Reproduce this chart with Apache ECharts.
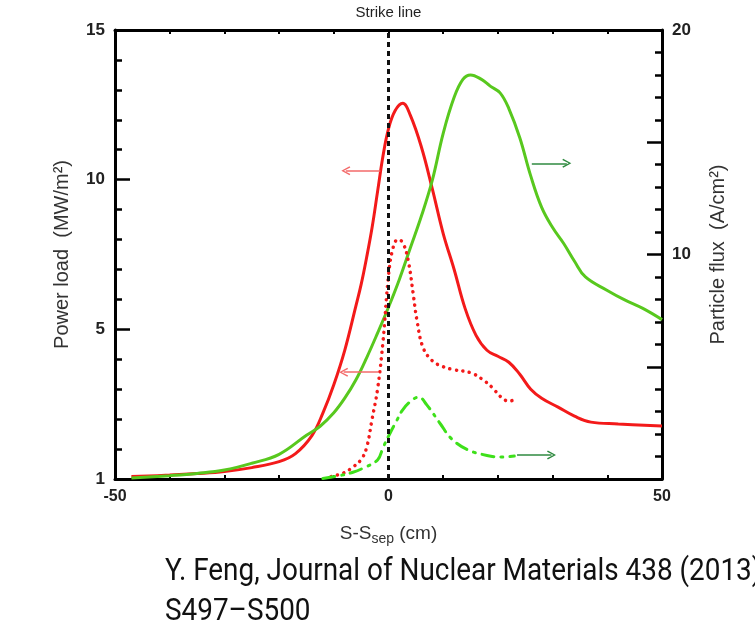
<!DOCTYPE html>
<html><head><meta charset="utf-8">
<script src="https://cdn.jsdelivr.net/npm/echarts@6/dist/echarts.min.js"></script>
<style>html,body{margin:0;padding:0;background:#fff}#c{width:755px;height:643px}</style>
</head><body><div id="c"></div>
<script>
// Power load (left axis), solid red
const redSolidX = [-47,-40,-35,-30,-25,-20,-17,-14,-12,-10,-8,-6,-5,-4,-3,-2,-1,0,1.2,2.6,4,6,8,10,12,14,16,18,20,22,24,26,28,31,34,37,42,50];
const redSolidY = [0.08,0.13,0.18,0.25,0.38,0.58,0.85,1.45,2.2,3.15,4.3,5.75,6.5,7.4,8.4,9.6,10.8,11.7,12.3,12.55,12.15,11.1,9.7,8.2,7.0,5.7,4.8,4.3,4.1,3.9,3.5,3.0,2.7,2.4,2.1,1.9,1.84,1.77];
// Particle flux (right axis), solid green
const greenSolidX = [-47,-40,-35,-30,-25,-20,-15,-12.5,-10,-8,-6,-4,-2,0,2,4,6,8,10,12,13.6,15,17,18.6,20.4,22,24,26,28,30,32,34,36,40,43,46.5,50];
const greenSolidY = [0.04,0.15,0.25,0.4,0.7,1.1,1.95,2.35,2.95,3.6,4.4,5.4,6.5,7.65,8.9,10.3,11.7,13.3,15.4,17.0,17.8,18.0,17.8,17.5,17.2,16.5,15.2,13.5,12.1,11.2,10.5,9.7,9.0,8.4,8.0,7.6,7.1];
// Power load (left axis), dotted red
const redDotX = [-10.5,-8,-6.5,-5,-4,-3,-2,-1,0,0.8,1.7,2.6,3.6,4.5,5.2,6.3,8,10,12,15,17,19,20.5,22,23.5];
const redDotY = [0.08,0.22,0.4,0.65,1.05,2.0,3.0,4.6,6.8,7.7,8.0,7.9,7.3,6.2,5.3,4.4,3.95,3.75,3.65,3.55,3.35,3.05,2.75,2.6,2.7];
// Particle flux (right axis), dash-dot green
const greenDashX = [-12,-9,-6.5,-4.5,-2,-1,0.3,1.5,2.5,4,5.5,7,9.5,11.5,14.5,18,20.5,23];
const greenDashY = [0.02,0.15,0.3,0.5,0.85,1.4,2.05,2.6,3.05,3.45,3.65,3.3,2.45,1.8,1.3,1.05,0.98,1.02];

// tick labels
const xTickValues = [-50, 0, 50];
const leftTickValues = [0, 5, 10, 15];
const leftTickLabels = ['1', '5', '10', '15'];
const rightTickValues = [10, 20];

// arrow annotations [xFrom, xTo, y]
const redArrows = [[-1.5, -7.8, 10.3], [-1.9, -8.2, 3.57]];
const greenArrows = [[26.2, 32.6, 14.06], [23.5, 29.8, 1.07]];

const RED = '#f31a1a', GREEN = '#58c81e', GREEN2 = '#3ee01a';
const chevron = 'path://M0,10 L5,0 L10,10 L8.6,11 L5,3.2 L1.4,11 Z';

function zip(xs, ys) { return xs.map((x, i) => [x, ys[i]]); }
function arrowData(list, color) {
  return list.map(a => [
    { coord: [a[0], a[2]], symbol: 'none' },
    { coord: [a[1], a[2]], symbol: chevron, symbolSize: [9, 9], lineStyle: { color: color, width: 1.6, type: 'solid' } }
  ]);
}

const FONT = 'Liberation Sans';
const chart = echarts.init(document.getElementById('c'));
chart.setOption({
  animation: false,
  backgroundColor: '#fff',
  grid: { left: 115, right: 93, top: 30, bottom: 164 },
  xAxis: [{
    type: 'value', min: -50, max: 50, interval: 10, position: 'bottom',
    name: '{a|S-S}{b|sep}{a| (cm)}', nameLocation: 'middle', nameGap: 43,
    nameTextStyle: { rich: { a: { fontSize: 19, color: '#333', fontFamily: FONT, lineHeight: 24 }, b: { fontSize: 14, color: '#333', fontFamily: FONT, lineHeight: 24, verticalAlign: 'bottom', padding: [11, 0, 0, 0] } } },
    axisLine: { show: true, onZero: false, lineStyle: { color: '#000', width: 3 } },
    axisTick: { show: true, inside: true, length: 4, lineStyle: { color: '#000', width: 2 } },
    axisLabel: { margin: 10, fontSize: 16, fontWeight: 'bold', color: '#222', fontFamily: FONT,
      formatter: v => xTickValues.includes(v) ? String(v) : '' },
    splitLine: { show: false }
  }, {
    type: 'value', min: -50, max: 50, interval: 10, position: 'top',
    axisLine: { show: true, onZero: false, lineStyle: { color: '#000', width: 3 } },
    axisTick: { show: true, inside: true, length: 4, lineStyle: { color: '#000', width: 2 } },
    axisLabel: { show: false }, splitLine: { show: false }
  }],
  yAxis: [{
    type: 'value', min: 0, max: 15, interval: 5, position: 'left',
    name: 'Power load  (MW/m²)', nameLocation: 'middle', nameGap: 43, nameRotate: 90,
    nameTextStyle: { fontSize: 20, color: '#333', fontFamily: FONT },
    axisLine: { show: true, onZero: false, lineStyle: { color: '#000', width: 3 } },
    axisTick: { show: true, inside: true, length: 15, lineStyle: { color: '#000', width: 2.5 } },
    minorTick: { show: true, splitNumber: 5, length: 7, lineStyle: { color: '#000', width: 2.5 } },
    axisLabel: { margin: 10, fontSize: 17, fontWeight: 'bold', color: '#222', fontFamily: FONT,
      formatter: v => { const i = leftTickValues.indexOf(v); return i >= 0 ? leftTickLabels[i] : ''; } },
    splitLine: { show: false }
  }, {
    type: 'value', min: 0, max: 20, interval: 5, position: 'right',
    name: 'Particle flux  (A/cm²)', nameLocation: 'middle', nameGap: 46, nameRotate: 90,
    nameTextStyle: { fontSize: 20, color: '#333', fontFamily: FONT },
    axisLine: { show: true, onZero: false, lineStyle: { color: '#000', width: 3 } },
    axisTick: { show: true, inside: true, length: 15, lineStyle: { color: '#000', width: 2.5 } },
    minorTick: { show: true, splitNumber: 5, length: 7, lineStyle: { color: '#000', width: 2.5 } },
    axisLabel: { margin: 10, fontSize: 17, fontWeight: 'bold', color: '#222', fontFamily: FONT,
      formatter: v => rightTickValues.includes(v) ? String(v) : '' },
    splitLine: { show: false }
  }],
  series: [{
    type: 'line', name: 'Power load', xAxisIndex: 0, yAxisIndex: 0,
    data: zip(redSolidX, redSolidY), smooth: 0.4, showSymbol: false,
    lineStyle: { color: RED, width: 3 },
    markLine: {
      silent: true, animation: false, symbol: 'none',
      data: [
        [{ coord: [0, 0], symbol: 'none' }, { coord: [0, 15], symbol: 'none',
          lineStyle: { color: '#111', width: 3, type: [5, 4] },
          label: { show: true, position: 'end', formatter: 'Strike line', color: '#222', fontSize: 15, fontFamily: FONT, distance: 10 } }]
      ].concat(arrowData(redArrows, '#f36a6a')),
      label: { show: false }
    }
  }, {
    type: 'line', name: 'Particle flux', xAxisIndex: 0, yAxisIndex: 1,
    data: zip(greenSolidX, greenSolidY), smooth: 0.4, showSymbol: false,
    lineStyle: { color: GREEN, width: 3 },
    markLine: { silent: true, animation: false, symbol: 'none', label: { show: false },
      data: arrowData(greenArrows, '#2f8a40') }
  }, {
    type: 'line', name: 'Power load (dotted)', xAxisIndex: 0, yAxisIndex: 0,
    data: zip(redDotX, redDotY), smooth: 0.4, showSymbol: false,
    lineStyle: { color: RED, width: 3.5, type: [0.1, 6.5], cap: 'round' }
  }, {
    type: 'line', name: 'Particle flux (dash-dot)', xAxisIndex: 0, yAxisIndex: 1,
    data: zip(greenDashX, greenDashY), smooth: 0.4, showSymbol: false,
    lineStyle: { color: GREEN2, width: 3, type: [12, 7, 2, 7], cap: 'round' }
  }],
  graphic: [{
    type: 'text', left: 165, top: 557, scaleX: 0.9,
    style: { text: 'Y. Feng, Journal of Nuclear Materials 438 (2013)', fontSize: 31, fontFamily: 'Roboto', fill: '#111' }
  }, {
    type: 'text', left: 165, top: 597, scaleX: 0.9,
    style: { text: 'S497–S500', fontSize: 31, fontFamily: 'Roboto', fill: '#111' }
  }]
});
</script>
</body></html>
